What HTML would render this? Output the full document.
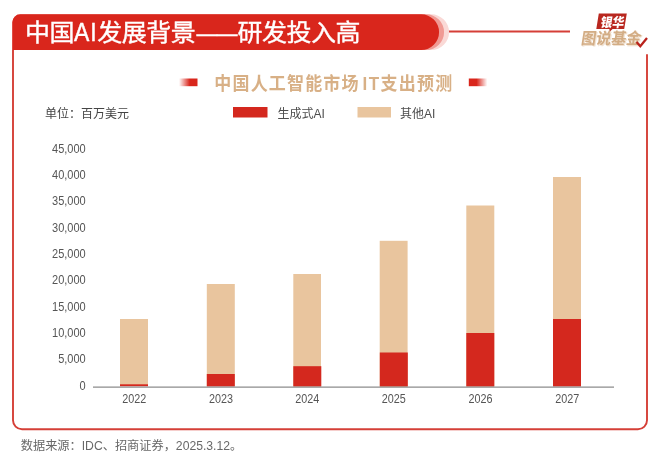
<!DOCTYPE html>
<html lang="zh-CN">
<head>
<meta charset="utf-8">
<title>中国AI发展背景——研发投入高</title>
<style>
html,body{margin:0;padding:0;background:#fff;}
body{width:660px;height:464px;overflow:hidden;position:relative;font-family:"Liberation Sans","Noto Sans CJK SC",sans-serif;}
svg{position:absolute;left:0;top:0;display:block;}
text{font-family:"Liberation Sans","Noto Sans CJK SC",sans-serif;}
.ax{font-size:12px;fill:#555;}
</style>
</head>
<body>
<svg width="660" height="464" viewBox="0 0 660 464">
  <defs>
    <linearGradient id="gl" x1="0" x2="1" y1="0" y2="0">
      <stop offset="0" stop-color="#d9261c" stop-opacity="0"/>
      <stop offset="0.58" stop-color="#d9261c" stop-opacity="1"/>
    </linearGradient>
    <linearGradient id="gr" x1="1" x2="0" y1="0" y2="0">
      <stop offset="0" stop-color="#d9261c" stop-opacity="0"/>
      <stop offset="0.58" stop-color="#d9261c" stop-opacity="1"/>
    </linearGradient>
  </defs>
  <rect width="660" height="464" fill="#fff"/>
  <!-- frame -->
  <path d="M13 40 V420.2 A9 9 0 0 0 22 429.2 H638 A9 9 0 0 0 647 420.2 V54.3" fill="none" stroke="#d53f37" stroke-width="1.9"/>
  <!-- header line -->
  <line x1="446" y1="31.5" x2="570" y2="31.5" stroke="#d53f37" stroke-width="1.9"/>
  <!-- banner -->
  <path d="M12.3 50 V22.3 A8 8 0 0 1 20.3 14.3 H431.2 A17.85 17.85 0 0 1 431.2 50 Z" fill="#fad9d6"/>
  <path d="M12.3 50 V22.3 A8 8 0 0 1 20.3 14.3 H426.2 A17.85 17.85 0 0 1 426.2 50 Z" fill="#f09a94"/>
  <path d="M12.3 50 V22.3 A8 8 0 0 1 20.3 14.3 H421.2 A17.85 17.85 0 0 1 421.2 50 Z" fill="#d9261c"/>
  <g font-size="25" font-weight="400" fill="#fff" stroke="#fff" stroke-width="0.4" letter-spacing="-0.5" transform="translate(0 40.6) scale(1 0.945)">
    <text x="25.1" y="0">中国</text>
    <text transform="translate(74.1 0) scale(0.92 1.1)" letter-spacing="0.9">AI</text>
    <text x="97.2" y="0">发展背景</text>
    <text x="196.4" y="0" letter-spacing="0" textLength="41" lengthAdjust="spacingAndGlyphs">——</text>
    <text x="237.6" y="0">研发投入高</text>
  </g>

  <!-- logo -->
  <g>
    <path d="M598.8 13.6 H626.8 L624.2 28.9 H612.6 L609.6 31.8 L609.4 28.9 H596.3 Z" fill="#b9271f"/>
    <text transform="translate(600 26.9) skewX(-9)" font-size="13" font-weight="900" fill="#fff" textLength="23.6" lengthAdjust="spacingAndGlyphs">银华</text>
    <text transform="translate(581.4 45.4) skewX(-9)" font-size="16" font-weight="900" fill="#f1e2d2" textLength="60" lengthAdjust="spacingAndGlyphs">图说基金</text>
    <text transform="translate(580.6 44.4) skewX(-9)" font-size="16" font-weight="700" fill="#d3ad85" textLength="60" lengthAdjust="spacingAndGlyphs">图说基金</text>
    <path d="M636.6 42 L640.3 46.2 L647 38" fill="none" stroke="#b9221c" stroke-width="2.3" stroke-linejoin="miter"/>
  </g>

  <!-- chart title -->
  <rect x="179" y="78.5" width="18.5" height="7.7" fill="url(#gl)"/>
  <rect x="468.8" y="78.5" width="18.5" height="7.7" fill="url(#gr)"/>
  <g font-size="17" font-weight="700" fill="#d8b086" letter-spacing="1" transform="translate(0 90) scale(1 1.08)">
    <text x="214.3" y="0" letter-spacing="1.18">中国人工智能市场</text>
    <text x="362.4" y="0" letter-spacing="1.6">IT</text>
    <text x="380.5" y="0" letter-spacing="1.3">支出预测</text>
  </g>

  <!-- unit + legend -->
  <text x="45" y="117.9" font-size="12" fill="#444">单位：百万美元</text>
  <rect x="233" y="107" width="34.5" height="10.5" fill="#d4281e"/>
  <text x="277.5" y="117.7" font-size="12" fill="#4d4d4d">生成式AI</text>
  <rect x="357.5" y="107" width="33.5" height="10.5" fill="#e9c59e"/>
  <text x="400" y="117.7" font-size="12" fill="#4d4d4d">其他AI</text>

  <!-- y axis labels -->
  <g class="ax" text-anchor="end" transform="scale(0.92 1)">
    <text x="93.2" y="152.7">45,000</text>
    <text x="93.2" y="179.0">40,000</text>
    <text x="93.2" y="205.4">35,000</text>
    <text x="93.2" y="231.7">30,000</text>
    <text x="93.2" y="258.0">25,000</text>
    <text x="93.2" y="284.4">20,000</text>
    <text x="93.2" y="310.7">15,000</text>
    <text x="93.2" y="337.0">10,000</text>
    <text x="93.2" y="363.4">5,000</text>
    <text x="93.2" y="389.7">0</text>
  </g>

  <!-- bars -->
  <g fill="#e9c59e">
    <rect x="120" y="319" width="28" height="67"/>
    <rect x="206.8" y="284" width="28" height="102"/>
    <rect x="293.3" y="274" width="27.7" height="112.5"/>
    <rect x="379.7" y="240.8" width="27.9" height="146"/>
    <rect x="466.3" y="205.5" width="28" height="181"/>
    <rect x="553" y="177" width="28" height="209"/>
  </g>
  <g fill="#d4281e">
    <rect x="120" y="384.3" width="28" height="2"/>
    <rect x="206.8" y="374" width="28" height="12.5"/>
    <rect x="293.3" y="366.2" width="28" height="20.3"/>
    <rect x="379.8" y="352.5" width="28" height="34"/>
    <rect x="466.3" y="333" width="28" height="53.5"/>
    <rect x="553" y="319" width="28" height="67.5"/>
  </g>
  <line x1="93" y1="387" x2="614" y2="387" stroke="#8c8c8c" stroke-width="1.25"/>

  <!-- x labels -->
  <g class="ax" text-anchor="middle" transform="scale(0.9 1)">
    <text x="149.1" y="403.2">2022</text>
    <text x="245.6" y="403.2">2023</text>
    <text x="341.4" y="403.2">2024</text>
    <text x="437.6" y="403.2">2025</text>
    <text x="533.9" y="403.2">2026</text>
    <text x="630.2" y="403.2">2027</text>
  </g>

  <!-- footer -->
  <text x="20.8" y="449.7" font-size="12.2" fill="#686868">数据来源：IDC、招商证券，2025.3.12。</text>
</svg>
</body>
</html>
